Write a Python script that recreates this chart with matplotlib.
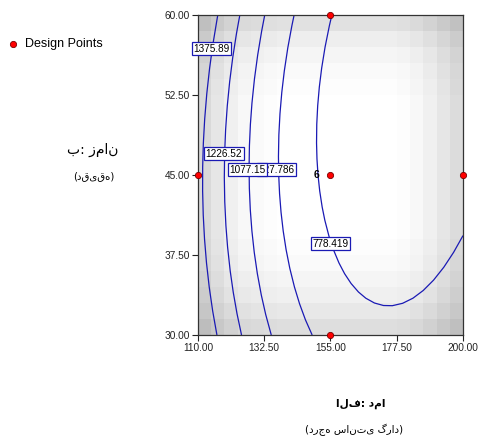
import numpy as np
import matplotlib.pyplot as plt
from matplotlib.lines import Line2D
from matplotlib.path import Path

plt.rcParams['font.family'] = ['Liberation Sans', 'DejaVu Sans']

# axes ticks
temp_ticks = [110.0, 132.5, 155.0, 177.5, 200.0]
time_ticks = [30.0, 37.5, 45.0, 52.5, 60.0]

# design points (temperature, time)
design_temp = [110, 155, 155, 155, 200]
design_time = [45, 60, 45, 30, 45]
center_reps = '6'

# contour levels and points
levels = [778.419, 927.786, 1077.15, 1226.52, 1375.89]
trace_temp = [
    [155.0, 151.4, 150.0, 152.6, 154.8, 159.3, 163.9, 173.5, 182.0, 187.7, 193.3, 200.0],
    [142.4, 139.3, 136.7, 141.2, 145.8, 149.2],
    [132.2, 129.1, 127.3, 129.9, 135.0],
    [123.9, 120.3, 119.2, 118.9, 120.9, 124.6],
    [116.7, 112.6, 111.2, 113.0, 116.0],
]
trace_time = [
    [60.0, 52.5, 45.0, 40.3, 38.0, 35.6, 33.9, 32.7, 33.3, 34.4, 36.25, 39.7],
    [59.65, 52.5, 45.0, 37.2, 32.5, 30.0],
    [59.65, 52.5, 45.0, 37.2, 30.0],
    [59.65, 52.5, 47.8, 45.0, 37.2, 30.0],
    [59.65, 52.5, 45.0, 37.2, 30.0],
]
level_text = ['778.419', '927.786', '1077.15', '1226.52', '1375.89']
label_temp = [155.0, 136.6, 126.8, 118.8, 114.6]
label_time = [38.55, 45.5, 45.5, 47.0, 56.85]

# background gray shading (20 x 20 cells)
shade_cols = [0.85, 0.90, 0.94, 0.97, 0.98, 0.99, 1, 1, 1, 1,
              1, 1, 1, 1, 1, 0.99, 0.97, 0.94, 0.90, 0.86]
shade_rows = [0.87, 0.91, 0.94, 0.96, 0.98, 0.99, 1, 1, 1, 1,
              1, 1, 1, 1, 1, 0.99, 0.98, 0.96, 0.93, 0.88]  # bottom -> top

x_title = 'الف: دما'
x_unit = '(درجه سانتی گراد)'
y_title = 'ب: زمان'
y_unit = '(دقیقه)'


# response surface fitted through the traced contour points
def code(t, b):
    return (np.asarray(t) - 155.0) / 45.0, (np.asarray(b) - 45.0) / 15.0


def terms(x, y):
    return np.stack([np.ones_like(x), x, y, x * x, x * y, y * y, x * x * y, x * y * y], axis=-1)


pts_x, pts_y, pts_z = [], [], []
for lv, tt, bb in zip(levels, trace_temp, trace_time):
    x, y = code(tt, bb)
    pts_x += list(x); pts_y += list(y); pts_z += [lv] * len(tt)
coef, *_ = np.linalg.lstsq(terms(np.array(pts_x), np.array(pts_y)), np.array(pts_z), rcond=None)

tg, bg = np.meshgrid(np.linspace(110, 200, 181), np.linspace(30, 60, 121))
gx, gy = code(tg, bg)
surf = terms(gx, gy) @ coef

fig = plt.figure(figsize=(4.81, 4.42), dpi=100)
ax = fig.add_axes([0.4116, 0.2421, 0.551, 0.7240])

ax.pcolormesh(np.linspace(110, 200, 21), np.linspace(30, 60, 21),
              np.outer(shade_rows, shade_cols), cmap='gray', vmin=0, vmax=1,
              shading='flat', zorder=0)
cs = ax.contour(tg, bg, surf, levels=levels, colors='#1a1ab4', linewidths=0.9, zorder=2)
# keep only the main line of every level (drop small pieces in the corners)
main = []
for p in cs.get_paths():
    parts = p.to_polygons(closed_only=False)
    main.append(Path(max(parts, key=len)) if parts else p)
cs.set_paths(main)

for txt, lt, lb in zip(level_text, label_temp, label_time):
    ax.text(lt, lb, txt, fontsize=7.2, ha='center', va='center', zorder=4, clip_on=False,
            bbox=dict(boxstyle='square,pad=0.15', fc='white', ec='#1a1ab4', lw=0.9))

ax.plot(design_temp, design_time, 'o', mfc='red', mec='#7a0000', mew=0.6, ms=4.5,
        clip_on=False, zorder=6)
ax.annotate(center_reps, (155, 45), xytext=(-14, 0), textcoords='offset pixels',
            ha='center', va='center', fontsize=7.5, fontweight='bold', zorder=6)

ax.set_xlim(110, 200)
ax.set_ylim(30, 60)
ax.set_xticks(temp_ticks)
ax.set_xticklabels(['%.2f' % v for v in temp_ticks])
ax.set_yticks(time_ticks)
ax.set_yticklabels(['%.2f' % v for v in time_ticks])
ax.tick_params(direction='out', length=4, width=0.8, labelsize=7.3, pad=2, colors='#222222')
for s in ax.spines.values():
    s.set_color('#333333')
    s.set_linewidth(0.9)

# axis titles
fig.text(93 / 481, 1 - 150 / 442, y_title, fontsize=10, ha='center', va='center',
         family=['DejaVu Sans'])
fig.text(94 / 481, 1 - 176 / 442, y_unit, fontsize=7.3, ha='center', va='center',
         family=['DejaVu Sans'])
fig.text(361 / 481, 1 - 404 / 442, x_title, fontsize=7.6, fontweight='bold', ha='center',
         va='center', family=['DejaVu Sans'])
fig.text(354 / 481, 1 - 430 / 442, x_unit, fontsize=7.4, ha='center',
         va='center', family=['DejaVu Sans'])

# legend
fig.add_artist(Line2D([13 / 481], [1 - 44 / 442], transform=fig.transFigure, marker='o',
                      mfc='red', mec='#7a0000', mew=0.6, ms=4.5, ls='none'))
fig.text(25 / 481, 1 - 44 / 442, 'Design Points', fontsize=9, ha='left', va='center')

plt.savefig('out.png', dpi=100)
